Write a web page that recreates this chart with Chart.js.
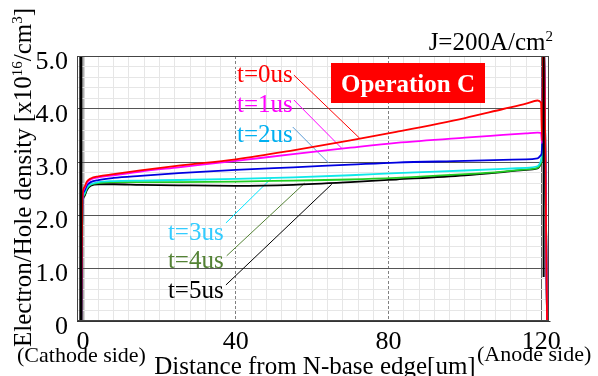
<!DOCTYPE html>
<html>
<head>
<meta charset="utf-8">
<script src="https://cdn.jsdelivr.net/npm/chart.js@4.4.0/dist/chart.umd.min.js"></script>
<style>
  html, body { margin: 0; padding: 0; background: #fff; }
</style>
</head>
<body>
<canvas id="myChart" width="598" height="376"></canvas>
<script>
// Datos
var posiciones = [-0.5, -0.2, 0.3, 1, 2, 4, 8, 15, 25, 40, 55, 70, 82, 100, 110, 116, 119, 119.9, 120.2, 120.5, 121.5];
var nombres = ['t=0us', 't=1us', 't=2us', 't=3us', 't=4us', 't=5us'];
var t0 = [0, 2.30, 2.52, 2.63, 2.69, 2.73, 2.77, 2.84, 2.93, 3.05, 3.22, 3.41, 3.57, 3.83, 4.00, 4.10, 4.16, 4.12, 3.40, 5.6, 0];
var t1 = [0, 2.28, 2.50, 2.61, 2.67, 2.71, 2.75, 2.82, 2.90, 3.02, 3.15, 3.27, 3.36, 3.46, 3.51, 3.54, 3.555, 3.55, 3.35, 5.6, 0];
var t2 = [0, 2.24, 2.45, 2.56, 2.62, 2.66, 2.70, 2.74, 2.79, 2.85, 2.90, 2.95, 2.99, 3.02, 3.04, 3.05, 3.07, 3.13, 3.30, 5.6, 0];
var t3 = [0, 2.20, 2.40, 2.52, 2.58, 2.62, 2.64, 2.65, 2.66, 2.68, 2.71, 2.75, 2.79, 2.84, 2.87, 2.89, 2.92, 3.02, 3.25, 5.6, 0];
var t4 = [0, 2.18, 2.38, 2.50, 2.57, 2.60, 2.62, 2.62, 2.62, 2.63, 2.65, 2.67, 2.70, 2.77, 2.82, 2.86, 2.89, 2.98, 3.20, 5.6, 0];
var t5 = [0, 2.15, 2.35, 2.47, 2.55, 2.58, 2.58, 2.57, 2.56, 2.55, 2.57, 2.62, 2.67, 2.75, 2.81, 2.85, 2.88, 2.97, 3.20, 5.6, 0];
var series = [t0, t1, t2, t3, t4, t5];

// Bordes verticales (catodo / anodo)
var bordeIzqX = [-0.6, -0.6];
var bordeIzqY = [0, 5];
var bordeDerX = [120.6, 120.6];
var bordeDerY = [5, 0.83];

// Lineas guia de las etiquetas
var guiaInicioX = [55.2, 55.2, 54.9, 37.4, 37.6, 37.4];
var guiaInicioY = [4.64, 4.17, 3.66, 1.85, 1.23, 0.68];
var guiaFinX = [72.4, 67.7, 64.3, 49.4, 58.0, 65.1];
var guiaFinY = [3.45, 3.26, 2.98, 2.70, 2.60, 2.58];
var etiquetaX = [40.3, 40.3, 40.3, 22.2, 22.2, 22.2];
var etiquetaY = [4.51, 3.94, 3.38, 1.53, 1.00, 0.43];

var xTickValores = [0, 40, 80, 120];
var xTickTextos = ['0', '40', '80', '120'];
var yTickValores = [0, 1, 2, 3, 4, 5];
var yTickTextos = ['0', '1.0', '2.0', '3.0', '4.0', '5.0'];

var coloresCurva = ['#ff0000', '#ff00ff', '#0000e0', '#10e8e8', '#22cc22', '#000000'];
var coloresGuia = ['#ff0000', '#ff00ff', '#5b9bd5', '#00e5ff', '#548235', '#000000'];
var coloresTexto = ['#ff0000', '#ff00ff', '#00b0f0', '#33ccff', '#548235', '#000000'];

var fuente = '"Liberation Serif", "Times New Roman", serif';

function esIgual(a, b) { return Math.abs(a - b) < 1e-6; }

var datasets = [];
series.forEach(function (s, i) {
    datasets.push({
        label: nombres[i],
        data: s.map(function (v, k) { return { x: posiciones[k], y: v }; }),
        borderColor: coloresCurva[i],
        borderWidth: 1.8,
        pointRadius: 0,
        cubicInterpolationMode: 'monotone'
    });
});
datasets.push({
    label: 'borde catodo',
    data: bordeIzqX.map(function (v, k) { return { x: v, y: bordeIzqY[k] }; }),
    borderColor: '#000', borderWidth: 3, pointRadius: 0, order: -1
});
datasets.push({
    label: 'borde anodo',
    data: bordeDerX.map(function (v, k) { return { x: v, y: bordeDerY[k] }; }),
    borderColor: '#000', borderWidth: 2, pointRadius: 0, order: -1
});
nombres.forEach(function (n, i) {
    datasets.push({
        label: 'guia ' + n,
        data: [{ x: guiaInicioX[i], y: guiaInicioY[i] }, { x: guiaFinX[i], y: guiaFinY[i] }],
        borderColor: coloresGuia[i], borderWidth: 1, pointRadius: 0
    });
});

// Marcas del grid (cada 4 um y cada 0.2)
var xGrid = [];
for (var i = 0; i <= 30; i++) xGrid.push(i * 4);
var yGrid = [];
for (var j = 0; j <= 25; j++) yGrid.push(Math.round(j * 2) / 10);

function supTexto(ctx, partes, x, y, tam) {
    // dibuja texto con superindices: partes = [[texto, esSup], ...]
    var cx = x;
    partes.forEach(function (p) {
        if (p[1]) {
            ctx.font = Math.round(tam * 0.6) + 'px ' + fuente;
            ctx.fillText(p[0], cx, y - tam * 0.38);
        } else {
            ctx.font = tam + 'px ' + fuente;
            ctx.fillText(p[0], cx, y);
        }
        cx += ctx.measureText(p[0]).width;
    });
    return cx - x;
}
function anchoSup(ctx, partes, tam) {
    var w = 0;
    partes.forEach(function (p) {
        ctx.font = (p[1] ? Math.round(tam * 0.6) : tam) + 'px ' + fuente;
        w += ctx.measureText(p[0]).width;
    });
    return w;
}

var textosPlugin = {
    id: 'textos',
    afterDraw: function (chart) {
        var ctx = chart.ctx, xs = chart.scales.x, ys = chart.scales.y, a = chart.chartArea;
        ctx.save();
        // marco
        ctx.strokeStyle = '#444';
        ctx.lineWidth = 1;
        ctx.strokeRect(a.left + 0.5, a.top + 0.5, a.right - a.left - 1, a.bottom - a.top - 1);

        ctx.textBaseline = 'alphabetic';
        ctx.textAlign = 'left';
        // etiquetas t=
        nombres.forEach(function (n, i) {
            ctx.fillStyle = coloresTexto[i];
            ctx.font = '25px ' + fuente;
            ctx.fillText(n, xs.getPixelForValue(etiquetaX[i]), ys.getPixelForValue(etiquetaY[i]));
        });

        // Operation C
        ctx.fillStyle = '#ff0000';
        ctx.fillRect(331, 63, 154, 40);
        ctx.fillStyle = '#fff';
        ctx.font = 'bold 25px ' + fuente;
        ctx.textAlign = 'center';
        ctx.fillText('Operation C', 408, 92);

        // J=200A/cm2
        ctx.textAlign = 'left';
        ctx.fillStyle = '#000';
        var pj = [['J=200A/cm', false], ['2', true]];
        supTexto(ctx, pj, 553 - anchoSup(ctx, pj, 25), 50, 25);

        // titulo eje x y lados
        ctx.font = '25px ' + fuente;
        ctx.textAlign = 'center';
        ctx.fillText('Distance from N-base edge[um]', 315, 374);
        ctx.font = '22px ' + fuente;
        ctx.textAlign = 'left';
        ctx.fillText('(Cathode side)', 17, 362);
        ctx.fillText('(Anode side)', 477, 361);

        // titulo eje y
        ctx.translate(31, 347);
        ctx.rotate(-Math.PI / 2);
        supTexto(ctx, [['Electron/Hole density [x10', false], ['16', true], ['/cm', false], ['3', true], [']', false]], 0, 0, 25);
        ctx.restore();
    }
};

var ctx = document.getElementById('myChart').getContext('2d');
var myChart = new Chart(ctx, {
    type: 'line',
    data: { datasets: datasets },
    options: {
        responsive: false,
        animation: false,
        layout: { padding: { left: 0, top: 56, right: 49, bottom: 0 } },
        plugins: { legend: { display: false }, tooltip: { enabled: false } },
        scales: {
            x: {
                type: 'linear',
                min: -1.6,
                max: 122,
                afterFit: function (s) { s.height = 55; },
                afterBuildTicks: function (s) { s.ticks = xGrid.map(function (v) { return { value: v }; }); },
                grid: {
                    drawTicks: false,
                    color: function (c) {
                        if (!c.tick) return '#ccc';
                        var v = c.tick.value;
                        if (esIgual(v, 0)) return '#b0b0b0';
                        if (esIgual(v, 40) || esIgual(v, 80)) return '#808080';
                        if (esIgual(v, 120)) return '#666';
                        return '#e6e6e6';
                    },
                    lineWidth: function (c) {
                        if (c.tick && esIgual(c.tick.value, 0)) return 2.5;
                        return 1;
                    }
                },
                border: {
                    color: '#333',
                    dash: function (c) {
                        if (c.tick && (esIgual(c.tick.value, 40) || esIgual(c.tick.value, 80))) return [3, 2];
                        return [];
                    }
                },
                ticks: {
                    autoSkip: false,
                    maxRotation: 0,
                    padding: 6,
                    color: '#000',
                    font: { family: fuente, size: 26 },
                    callback: function (v) {
                        for (var k = 0; k < xTickValores.length; k++) if (esIgual(v, xTickValores[k])) return xTickTextos[k];
                        return '';
                    }
                }
            },
            y: {
                type: 'linear',
                min: 0,
                max: 5,
                afterFit: function (s) { s.width = 77; },
                afterBuildTicks: function (s) { s.ticks = yGrid.map(function (v) { return { value: v }; }); },
                grid: {
                    drawTicks: false,
                    color: function (c) {
                        if (!c.tick) return '#ccc';
                        var v = c.tick.value;
                        if (esIgual(v, Math.round(v))) return '#555';
                        return '#e6e6e6';
                    }
                },
                border: { color: '#333' },
                ticks: {
                    autoSkip: false,
                    padding: 9,
                    labelOffset: 6,
                    color: '#000',
                    font: { family: fuente, size: 26 },
                    callback: function (v) {
                        for (var k = 0; k < yTickValores.length; k++) if (esIgual(v, yTickValores[k])) return yTickTextos[k];
                        return '';
                    }
                }
            }
        }
    },
    plugins: [textosPlugin]
});
</script>
</body>
</html>
